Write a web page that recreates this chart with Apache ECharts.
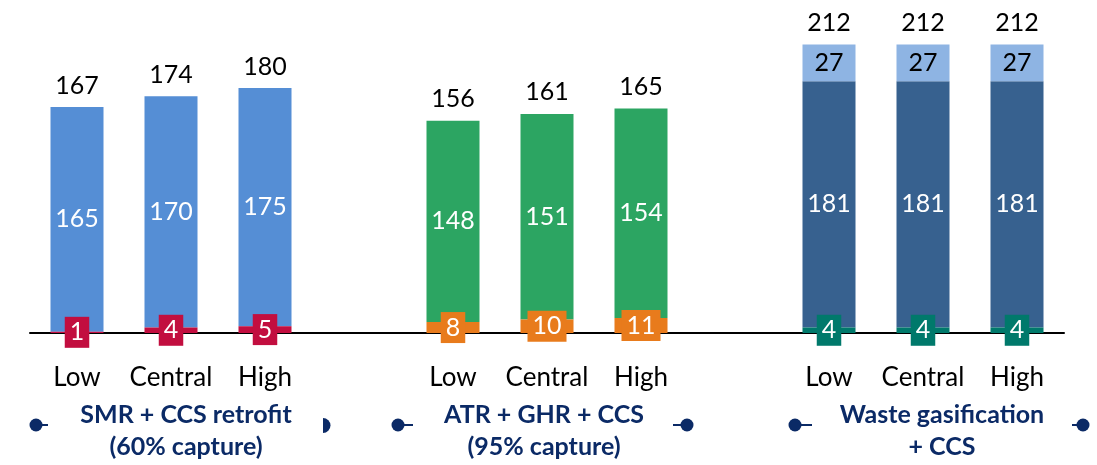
<!DOCTYPE html>
<html>
<head>
<meta charset="utf-8">
<script src="https://cdn.jsdelivr.net/npm/echarts@6/dist/echarts.min.js"></script>
<style>html,body{margin:0;padding:0;background:#fff}#c{width:1097px;height:465px}</style>
</head>
<body>
<div id="c"></div>
<script>
const scenarios = ['Low', 'Central', 'High'];
const groupNames = ['SMR + CCS retrofit\n(60% capture)', 'ATR + GHR + CCS\n(95% capture)', 'Waste gasification\n+ CCS'];
const smrBottom = [1, 4, 5];
const smrMain = [165, 170, 175];
const smrTotal = [167, 174, 180];
const atrBottom = [8, 10, 11];
const atrMain = [148, 151, 154];
const atrTotal = [156, 161, 165];
const wasteBottom = [4, 4, 4];
const wasteMain = [181, 181, 181];
const wasteTop = [27, 27, 27];
const wasteTotal = [212, 212, 212];

const FONT = 'Lato';
const categories = [].concat(scenarios, [''], scenarios, [''], scenarios);
function place(groupIdx, arr) {
  const out = categories.map(() => '-');
  arr.forEach((v, i) => { out[groupIdx * 4 + i] = v; });
  return out;
}
function boxLabel(bg) {
  return { show: true, position: 'inside', color: '#fff', fontSize: 25, fontFamily: FONT,
    backgroundColor: bg, padding: [3, 5, 3, 5], lineHeight: 25 };
}
const innerLabel = c => ({ show: true, position: 'inside', color: c, fontSize: 25, fontFamily: FONT });
const bw = 53;
function seg(g, vals, color, label, z) {
  return { type: 'bar', stack: 's', barWidth: bw, data: place(g, vals), itemStyle: { color: color }, label: label, z: z };
}
function totals(g, t) {
  return {
    type: 'bar', stack: 's', barWidth: bw, data: place(g, t.map(() => 0)),
    itemStyle: { color: 'transparent' }, silent: true,
    label: { show: true, position: 'top', distance: 9, color: '#000', fontSize: 25, fontFamily: FONT,
      formatter: p => t[p.dataIndex - g * 4] }
  };
}

const chart = echarts.init(document.getElementById('c'));
const NAVY = '#0B2A66';
const gtext = [
  { x: 186, t: groupNames[0] }, { x: 544, t: groupNames[1] }, { x: 942, t: groupNames[2] }
];
const graphics = gtext.map(g => ({
  type: 'text', x: g.x, y: 431, silent: true,
  style: { text: g.t, fill: NAVY, font: 'bold 25px ' + FONT, align: 'center', verticalAlign: 'middle', lineHeight: 32 }
}));
function dot(cx, lx) {
  return [
    { type: 'line', shape: { x1: cx, y1: 425, x2: lx, y2: 425 }, style: { stroke: NAVY, lineWidth: 2 } },
    { type: 'circle', shape: { cx: cx, cy: 425, r: 6.5 }, style: { fill: NAVY } }
  ];
}
graphics.push(...dot(36, 48));
graphics.push({ type: 'sector', shape: { cx: 323, cy: 425.5, r: 7.5, startAngle: -Math.PI / 2, endAngle: Math.PI / 2 }, style: { fill: NAVY } });
graphics.push(...dot(398, 413));
graphics.push(...dot(687, 673));
graphics.push(...dot(795, 812));
graphics.push(...dot(1083, 1072));

chart.setOption({
  animation: false,
  grid: { left: 30, right: 33, top: 20, bottom: 132 },
  xAxis: {
    type: 'category', data: categories,
    axisLine: { lineStyle: { color: '#000', width: 2 } },
    axisTick: { show: false },
    axisLabel: { color: '#000', fontSize: 26, fontFamily: FONT, margin: 32, interval: 0 }
  },
  yAxis: { type: 'value', min: 0, max: 230, show: false, splitLine: { show: false } },
  series: [
    seg(0, smrBottom, '#C20E3F', boxLabel('#C20E3F'), 3),
    seg(0, smrMain, '#558ED5', innerLabel('#fff'), 2),
    totals(0, smrTotal),
    seg(1, atrBottom, '#E87B1C', boxLabel('#E87B1C'), 3),
    seg(1, atrMain, '#2CA562', innerLabel('#fff'), 2),
    totals(1, atrTotal),
    seg(2, wasteBottom, '#00796B', boxLabel('#00796B'), 3),
    seg(2, wasteMain, '#37618F', innerLabel('#fff'), 2),
    seg(2, wasteTop, '#8EB4E3', innerLabel('#000'), 2),
    totals(2, wasteTotal)
  ],
  graphic: graphics
});
</script>
</body>
</html>
